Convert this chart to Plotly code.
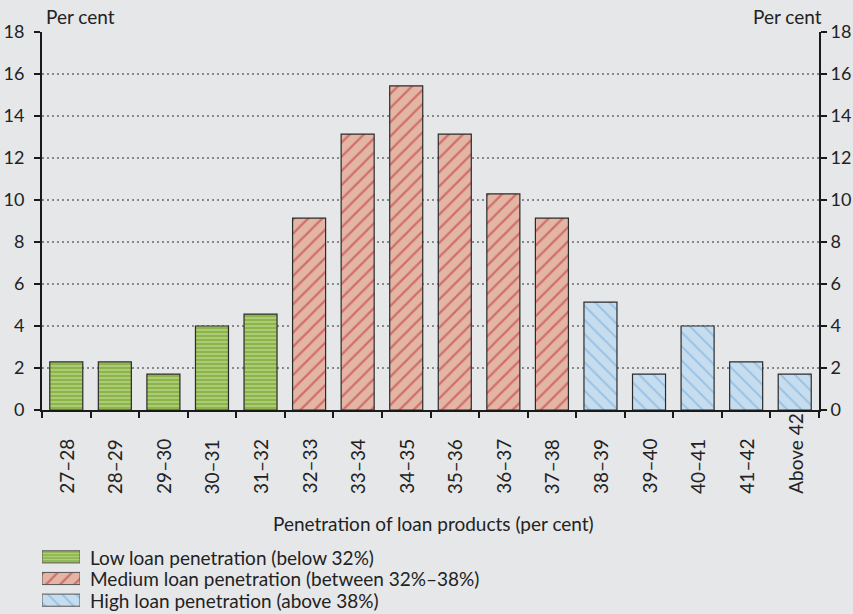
import plotly.graph_objects as go

categories = ["27–28", "28–29", "29–30", "30–31", "31–32", "32–33", "33–34", "34–35",
              "35–36", "36–37", "37–38", "38–39", "39–40", "40–41", "41–42", "Above 42"]
values = [2.29, 2.29, 1.71, 4.00, 4.57, 9.14, 13.14, 15.43,
          13.14, 10.29, 9.14, 5.14, 1.71, 4.00, 2.29, 1.71]
groups = ["low"] * 5 + ["medium"] * 6 + ["high"] * 5
group_order = ["low", "medium", "high"]
group_names = {
    "low": "Low loan penetration (below 32%)",
    "medium": "Medium loan penetration (between 32%–38%)",
    "high": "High loan penetration (above 38%)",
}
y_ticks = [0, 2, 4, 6, 8, 10, 12, 14, 16, 18]
x_title = "Penetration of loan products (per cent)"
y_unit = "Per cent"

styles = {
    "low": dict(shape="-", bg="#8cb548", fg="#d3e6b0", size=4, solidity=0.45),
    "medium": dict(shape="/", bg="#e2b5a5", fg="#c0272d", size=10, solidity=0.22),
    "high": dict(shape="\\", bg="#c6ddf0", fg="#6ea7d6", size=10, solidity=0.2),
}

W, H = 853, 614
ML, MR, MT, MB = 42, 34, 32, 0
PH = H - MT - MB  # paper height in px
plot_bottom_px = 410


def py(px):  # pixel y (from top) -> paper fraction
    return (H - MB - px) / PH


def px_x(px):  # pixel x -> paper fraction
    return (px - ML) / (W - ML - MR)


FONT = "Lato, Open Sans, sans-serif"
TXT = "#222222"
FS = 19
TFS = 18

fig = go.Figure()
for g in group_order:
    xs = [c for c, gg in zip(categories, groups) if gg == g]
    ys = [v for v, gg in zip(values, groups) if gg == g]
    s = styles[g]
    fig.add_trace(go.Bar(
        x=xs, y=ys, name=group_names[g], width=0.68, showlegend=False,
        marker=dict(color=s["bg"], line=dict(color="#2b2b2b", width=1.2),
                    pattern=dict(shape=s["shape"], fgcolor=s["fg"], bgcolor=s["bg"],
                                 size=s["size"], solidity=s["solidity"], fillmode="overlay")),
    ))
    # legend swatch drawn as a bar on an inset axis
    fig.add_trace(go.Bar(
        x=[1], y=[group_names[g]], orientation="h", xaxis="x2", yaxis="y3", width=0.56,
        showlegend=False, hoverinfo="skip",
        marker=dict(color=s["bg"], line=dict(color="#555555", width=1),
                    pattern=dict(shape=s["shape"], fgcolor=s["fg"], bgcolor=s["bg"],
                                 size=s["size"] if g != "low" else 3, solidity=s["solidity"],
                                 fillmode="overlay")),
    ))

# invisible trace to anchor right axis
fig.add_trace(go.Scatter(x=[categories[0]], y=[0], yaxis="y2", showlegend=False,
                         mode="markers", marker=dict(opacity=0), hoverinfo="skip"))

axis_common = dict(range=[0, 18], tickvals=y_ticks, ticks="outside", ticklen=6, tickwidth=2,
                   tickcolor="#1a1a1a", showline=True, linecolor="#1a1a1a", linewidth=2,
                   tickfont=dict(size=TFS, color=TXT, family=FONT), zeroline=False,
                   fixedrange=True, automargin=False, domain=[py(plot_bottom_px), 1])

annotations = []
# rotated category labels, start-aligned below the axis
for c in categories:
    annotations.append(dict(text=c, x=c, xref="x", y=py(496), yref="paper", textangle=-90,
                            xanchor="center", yanchor="bottom", showarrow=False,
                            font=dict(size=FS, color=TXT, family=FONT)))
annotations.append(dict(text=x_title, x=px_x(433), y=py(523), xref="paper", yref="paper",
                        xanchor="center", yanchor="middle", showarrow=False,
                        font=dict(size=FS, color=TXT, family=FONT)))
annotations.append(dict(text=y_unit, x=px_x(44), y=py(16), xref="paper", yref="paper",
                        xanchor="left", yanchor="middle", showarrow=False,
                        font=dict(size=FS, color=TXT, family=FONT)))
annotations.append(dict(text=y_unit, x=px_x(824), y=py(16), xref="paper", yref="paper",
                        xanchor="right", yanchor="middle", showarrow=False,
                        font=dict(size=FS, color=TXT, family=FONT)))
legend_y = [557, 578.5, 600]
for g, yy in zip(group_order, legend_y):
    annotations.append(dict(text=group_names[g], x=px_x(88), y=py(yy), xref="paper",
                            yref="paper", xanchor="left", yanchor="middle", showarrow=False,
                            font=dict(size=FS, color=TXT, family=FONT)))

fig.update_layout(
    width=W, height=H,
    paper_bgcolor="#e6e7e9", plot_bgcolor="#e6e7e9",
    margin=dict(l=ML, r=MR, t=MT, b=MB, pad=0, autoexpand=False),
    barmode="overlay",
    showlegend=False,
    font=dict(family=FONT, size=FS, color=TXT),
    xaxis=dict(categoryorder="array", categoryarray=categories,
               ticks="outside", tickson="boundaries", ticklen=6, tickwidth=2, tickcolor="#1a1a1a",
               showline=True, linecolor="#1a1a1a", linewidth=2, showgrid=False,
               showticklabels=False, range=[-0.5, 15.5], anchor="y", fixedrange=True,
               automargin=False),
    yaxis=dict(**axis_common, side="left", showgrid=True, gridcolor="#8a8a8a",
               griddash="2px,3px", gridwidth=1.5, ticklabelstandoff=6),
    yaxis2=dict(**axis_common, side="right", overlaying="y", showgrid=False, anchor="x",
                ticklabelstandoff=0),
    xaxis2=dict(domain=[px_x(42), px_x(80)], range=[0, 1], anchor="y3", visible=False,
                fixedrange=True, automargin=False),
    yaxis3=dict(domain=[py(611), py(546)], anchor="x2", visible=False, fixedrange=True,
                categoryorder="array", categoryarray=[group_names[g] for g in group_order][::-1],
                range=[-0.5, 2.5], automargin=False),
    annotations=annotations,
)
fig.write_html("out.html", config={"displayModeBar": False},
               post_script="document.body.style.margin='0px';")
